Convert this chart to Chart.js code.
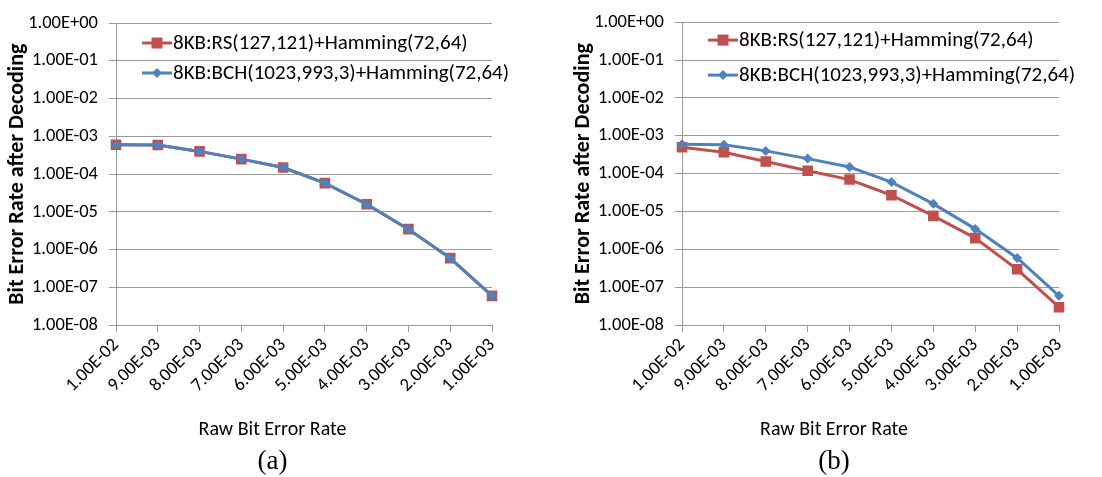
<!DOCTYPE html>
<html>
<head>
<meta charset="utf-8">
<script src="https://cdn.jsdelivr.net/npm/chart.js@4/dist/chart.umd.min.js"></script>
<style>
  html, body { margin: 0; padding: 0; background: #fff; }
  #wrap { position: relative; width: 1102px; height: 477px; }
  .box { position: absolute; top: 0; height: 477px; }
  #boxA { left: 0; width: 545px; }
  #boxB { left: 566px; width: 536px; }
</style>
</head>
<body>
<div id="wrap">
  <div class="box" id="boxA"><canvas id="chartA"></canvas></div>
  <div class="box" id="boxB"><canvas id="chartB"></canvas></div>
</div>
<script>
// x categories (raw BER) and y tick labels
const rawBer = ['1.00E-02', '9.00E-03', '8.00E-03', '7.00E-03', '6.00E-03',
                '5.00E-03', '4.00E-03', '3.00E-03', '2.00E-03', '1.00E-03'];
const yTickLabels = ['1.00E+00', '1.00E-01', '1.00E-02', '1.00E-03', '1.00E-04',
                     '1.00E-05', '1.00E-06', '1.00E-07', '1.00E-08'];

// series labels
const rsLabel = '8KB:RS(127,121)+Hamming(72,64)';
const bchLabel = '8KB:BCH(1023,993,3)+Hamming(72,64)';

// (a)
const rsA  = [6.0e-4, 5.9e-4, 4.0e-4, 2.5e-4, 1.5e-4, 5.8e-5, 1.6e-5, 3.5e-6, 6.0e-7, 6.0e-8];
const bchA = [6.0e-4, 5.9e-4, 4.0e-4, 2.5e-4, 1.5e-4, 5.8e-5, 1.6e-5, 3.5e-6, 6.0e-7, 6.0e-8];
// (b)
const rsB  = [5.0e-4, 3.7e-4, 2.1e-4, 1.2e-4, 7.0e-5, 2.7e-5, 7.7e-6, 2.0e-6, 3.0e-7, 3.0e-8];
const bchB = [6.0e-4, 5.8e-4, 4.0e-4, 2.5e-4, 1.5e-4, 6.0e-5, 1.6e-5, 3.5e-6, 6.0e-7, 6.0e-8];

const RED = '#C0504D';
const BLUE = '#4F81BD';
const GRID = '#9a9a9a';
const FONT = "Carlito, Lato, 'Liberation Sans', sans-serif";

// legend drawn inside the plot area, Excel style
const innerLegend = {
    id: 'innerLegend',
    afterDraw(chart, args, opts) {
        const ctx = chart.ctx;
        const area = chart.chartArea;
        const x0 = area.left + opts.x;
        ctx.save();
        ctx.font = opts.fontSize + 'px ' + FONT;
        ctx.textBaseline = 'middle';
        chart.data.datasets.forEach((ds, i) => {
            const y = area.top + opts.y + i * opts.rowGap;
            ctx.strokeStyle = ds.borderColor;
            ctx.lineWidth = 3;
            ctx.beginPath();
            ctx.moveTo(x0, y);
            ctx.lineTo(x0 + 30, y);
            ctx.stroke();
            ctx.fillStyle = ds.pointBackgroundColor;
            const cx = x0 + 15;
            if (ds.pointStyle === 'rect') {
                ctx.fillRect(cx - 5.5, y - 5.5, 11, 11);
            } else {
                ctx.beginPath();
                ctx.moveTo(cx, y - 5);
                ctx.lineTo(cx + 5, y);
                ctx.lineTo(cx, y + 5);
                ctx.lineTo(cx - 5, y);
                ctx.closePath();
                ctx.fill();
            }
            ctx.fillStyle = '#000';
            ctx.fillText(ds.label, x0 + 31, y + 1);
        });
        ctx.restore();
    }
};

function makeChart(id, rs, bch, caption, padTop, rightGap, legendY, rowGap) {
    const ctx = document.getElementById(id);
    return new Chart(ctx, {
        type: 'line',
        data: {
            labels: rawBer,
            datasets: [
                {
                    label: rsLabel,
                    data: rs,
                    borderColor: RED,
                    backgroundColor: RED,
                    pointBackgroundColor: RED,
                    pointBorderColor: RED,
                    pointStyle: 'rect',
                    pointRadius: 7.5,
                    pointBorderWidth: 0,
                    borderWidth: 3,
                    order: 1
                },
                {
                    label: bchLabel,
                    data: bch,
                    borderColor: BLUE,
                    backgroundColor: BLUE,
                    pointBackgroundColor: BLUE,
                    pointBorderColor: BLUE,
                    pointStyle: 'rectRot',
                    pointRadius: 5,
                    pointBorderWidth: 0,
                    borderWidth: 3,
                    order: 0
                }
            ]
        },
        options: {
            responsive: true,
            maintainAspectRatio: false,
            animation: false,
            layout: {
                padding: { top: padTop, bottom: 0, left: 0, right: 0 }
            },
            plugins: {
                legend: { display: false },
                tooltip: { enabled: false },
                innerLegend: { x: 26, y: legendY, rowGap: rowGap, fontSize: 21 },
                title: {
                    display: true,
                    position: 'bottom',
                    text: caption,
                    color: '#000',
                    font: { family: "'Liberation Serif', 'DejaVu Serif', serif", size: 27, weight: 'normal', lineHeight: 1.1 },
                    padding: { top: 0, bottom: 0 }
                },
                subtitle: {
                    display: true,
                    position: 'bottom',
                    text: 'Raw Bit Error Rate',
                    color: '#000',
                    font: { family: FONT, size: 20, lineHeight: 1.2 },
                    padding: { top: 4, bottom: 5 }
                }
            },
            scales: {
                x: {
                    offset: false,
                    afterFit: (scale) => { scale.height = 89; },
                    grid: {
                        drawOnChartArea: false,
                        drawTicks: true,
                        tickLength: 7,
                        color: GRID
                    },
                    border: { color: GRID, width: 1 },
                    ticks: {
                        color: '#000',
                        font: { family: FONT, size: 18.5 },
                        maxRotation: 45,
                        minRotation: 45,
                        autoSkip: false,
                        padding: 2
                    }
                },
                y: {
                    type: 'logarithmic',
                    min: 1e-8,
                    max: 1,
                    afterFit: (scale) => { scale.width = 116; },
                    afterBuildTicks: (scale) => {
                        scale.ticks = yTickLabels.map((t) => ({ value: Number(t) }));
                    },
                    grid: {
                        color: GRID,
                        lineWidth: 1,
                        tickLength: 7
                    },
                    border: { color: GRID, width: 1 },
                    ticks: {
                        color: '#000',
                        font: { family: FONT, size: 18.5 },
                        padding: 11,
                        callback: (value, index) => yTickLabels[index]
                    },
                    title: {
                        display: true,
                        text: 'Bit Error Rate after Decoding',
                        color: '#000',
                        font: { family: FONT, size: 22, weight: 'bold', lineHeight: 1.2 },
                        padding: { top: 4, bottom: 0 }
                    }
                },
                // empty strip on the right so the captions centre on the whole panel
                gap: {
                    type: 'linear',
                    position: 'right',
                    display: true,
                    afterFit: (scale) => { scale.width = rightGap; },
                    grid: { display: false, drawTicks: false },
                    border: { display: false },
                    ticks: { display: false }
                }
            }
        },
        plugins: [innerLegend]
    });
}

makeChart('chartA', rsA, bchA, '(a)', 23, 53, 20, 30);
makeChart('chartB', rsB, bchB, '(b)', 17, 43, 18, 35);
</script>
</body>
</html>
